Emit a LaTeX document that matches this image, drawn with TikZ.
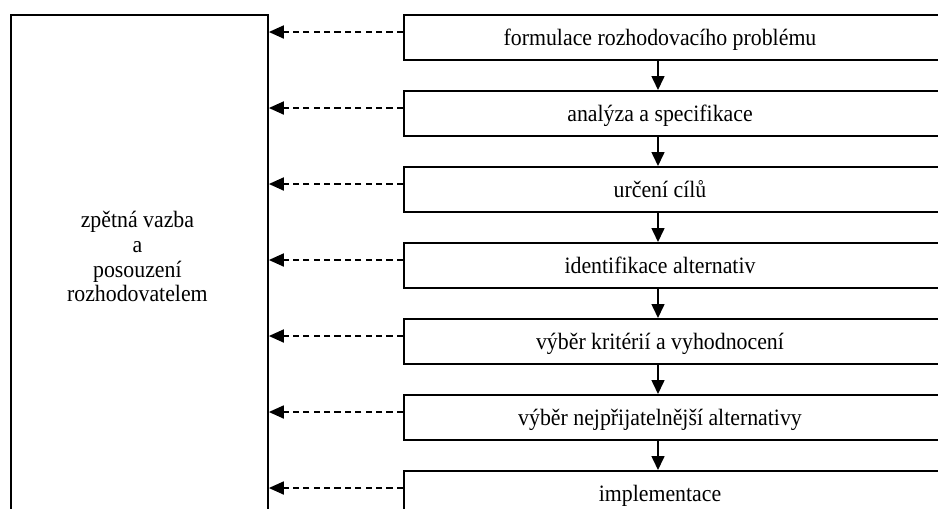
\documentclass[tikz,border=0pt]{standalone}
\usepackage{fontspec}
\setmainfont{Liberation Serif}[FakeStretch=0.93]
\usetikzlibrary{arrows.meta}
\begin{document}
\begin{tikzpicture}[x=0.75pt,y=-0.75pt,
  box/.style={draw, line width=1.4pt, rectangle, inner sep=0pt},
  stepbox/.style={box, minimum width=406.5pt, minimum height=33.75pt, anchor=north west},
  lbl/.style={font=\fontsize{17.6}{18.5}\selectfont, inner sep=0pt},
  flow/.style={line width=1.2pt, -{Triangle[length=10.5pt,width=9.75pt]}},
  back/.style={line width=1.4pt, dash pattern=on 4.6pt off 3.2pt, -{Triangle[length=11.25pt,width=9.75pt]}}
]
\clip (0,0) rectangle (938,508);
% feedback box on the left
\node[box, anchor=north west, minimum width=192.75pt, minimum height=379.5pt] (fb) at (10,14) {};
\node[lbl, align=center, anchor=base] (fbt) at (137.4,301.7) {zpětná vazba\\a\\posouzení\\rozhodovatelem};
% decision steps
\foreach [count=\i] \t in {formulace rozhodovacího problému, analýza a specifikace, určení cílů, identifikace alternativ, výběr kritérií a vyhodnocení, výběr nejpřijatelnější alternativy, implementace} {
  \node[stepbox] (b\i) at (403, {14+76*(\i-1)}) {};
  \node[lbl, anchor=base] (t\i) at (660, {45.5+76*(\i-1)}) {\t};
  \coordinate (p\i) at (403, {32+76*(\i-1)});
  \draw[back] (p\i) -- (fb.east |- p\i);
}
% flow between steps
\foreach \i [evaluate=\i as \j using int(\i+1)] in {1,...,6}
  \draw[flow] (658, 0 |- b\i.south) -- (658, 0 |- b\j.north);
\end{tikzpicture}
\end{document}
